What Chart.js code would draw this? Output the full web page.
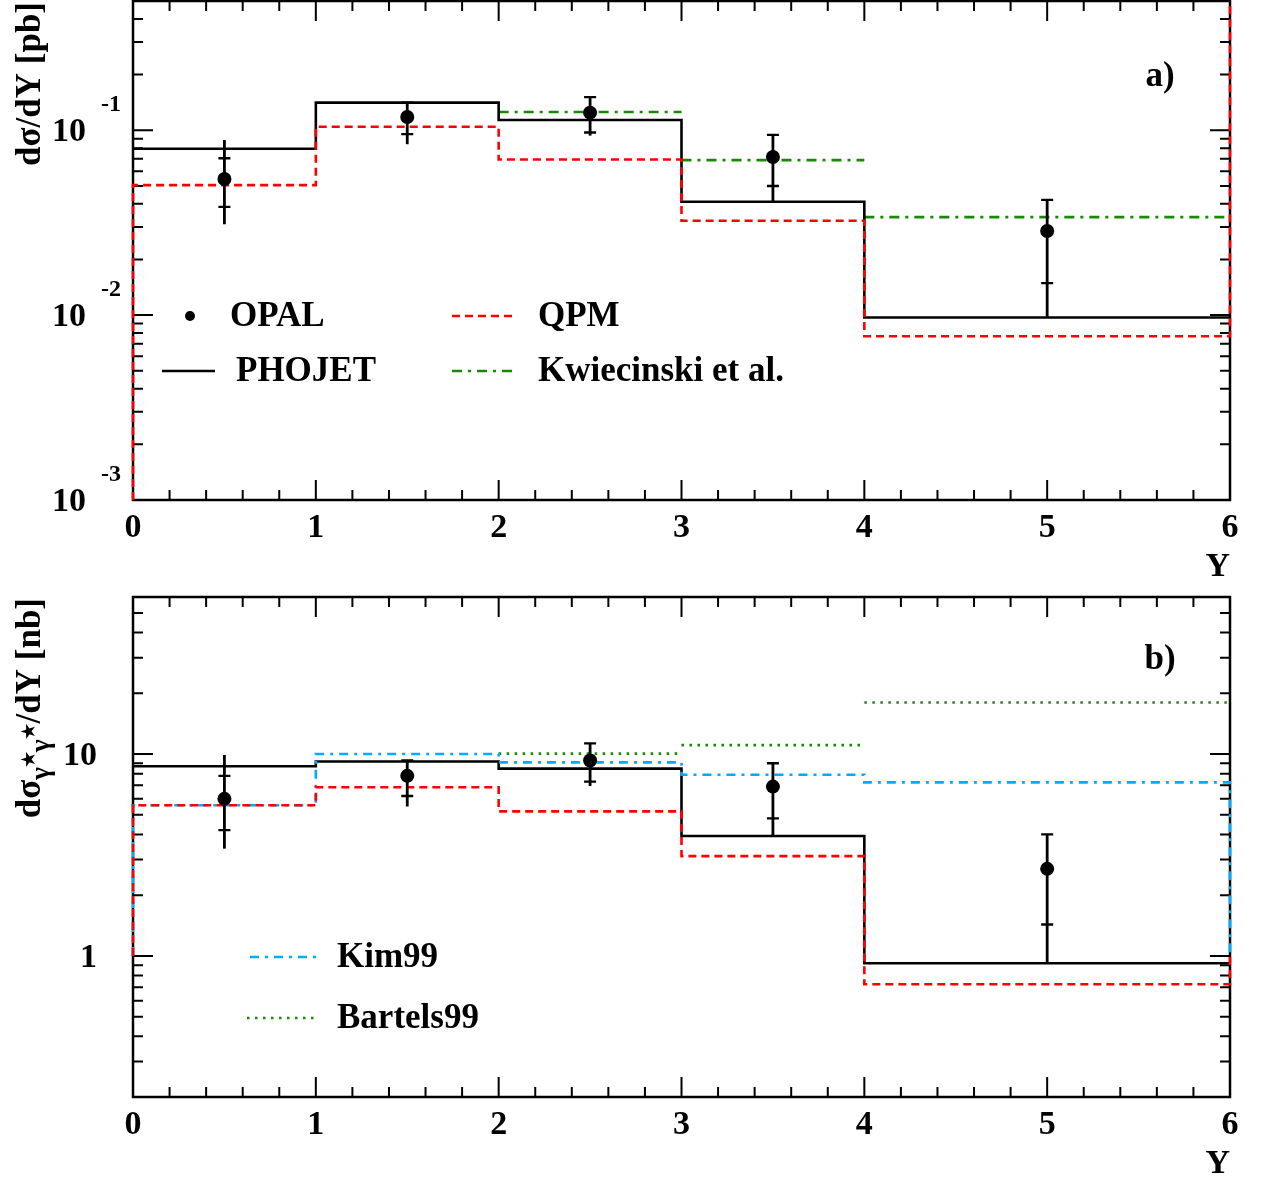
<!DOCTYPE html>
<html>
<head>
<meta charset="utf-8">
<title>dσ/dY</title>
<script src="https://cdn.jsdelivr.net/npm/chart.js@4/dist/chart.umd.min.js"></script>
<style>
  html, body { margin: 0; padding: 0; background: #fff; }
  #wrap { position: relative; width: 1268px; height: 1182px; overflow: hidden; }
  canvas { position: absolute; left: 0; }
  #cA { top: 0; }
  #cB { top: 590px; }
</style>
</head>
<body>
<div id="wrap">
  <canvas id="cA" width="1268" height="590"></canvas>
  <canvas id="cB" width="1268" height="592"></canvas>
</div>
<script>
// ---- binning (shared by both panels) ----
const binEdges = [0, 1, 2, 3, 4, 6];
const binCentres = [0.5, 1.5, 2.5, 3.5, 5.0];
const xTickLabels = ['0', '1', '2', '3', '4', '5', '6'];

// ---- panel a): dσ/dY [pb] ----
const opalA        = [0.0545, 0.118, 0.1245, 0.0716, 0.0285];
const opalAStatUp  = [0.016, 0.023, 0.0265, 0.0228, 0.0135];
const opalAStatDn  = [0.016, 0.0227, 0.0272, 0.0217, 0.0136];
const opalATotUp   = [0.034, 0.024, 0.027, 0.023, 0.0136];
const opalATotDn   = [0.0235, 0.034, 0.031, 0.0305, 0.0188];
const phojetA      = [0.0794, 0.141, 0.1135, 0.0410, 0.0097];
const qpmA         = [0.0505, 0.1045, 0.0695, 0.0324, 0.00768];
const qpmAClose    = [0.001, 1];          // outline closing levels at Y=0 and Y=6
const kwiecinskiA  = [null, null, 0.1256, 0.0689, 0.0339];
const yTicksA      = [0.001, 0.01, 0.1];
const yTickLabelsA = [['10', '-3'], ['10', '-2'], ['10', '-1']];

// ---- panel b): dσγ*γ*/dY [nb] ----
const opalB        = [6.0, 7.8, 9.3, 6.9, 2.7];
const opalBStatUp  = [1.8, 1.5, 2.0, 2.1, 1.3];
const opalBStatDn  = [1.8, 1.6, 2.0, 2.1, 1.27];
const opalBTotUp   = [3.9, 1.55, 2.05, 2.1, 1.3];
const opalBTotDn   = [2.6, 2.3, 2.35, 3.0, 1.78];
const phojetB      = [8.7, 9.18, 8.47, 3.93, 0.92];
const qpmB         = [5.58, 6.85, 5.2, 3.12, 0.724];
const qpmBClose    = [1, 1];
const kimB         = [5.58, 10.0, 9.1, 7.9, 7.24];
const kimBClose    = [1, 1];
const bartelsB     = [null, null, 10.05, 11.07, 18.0];
const yTicksB      = [1, 10];
const yTickLabelsB = [['1', ''], ['10', '']];

// ---- styling ----
const SERIF = '"Liberation Serif", "Times New Roman", Times, serif';
const bold = px => `bold ${px}px ${SERIF}`;
const RED = '#ff0000';
const GREEN = '#168a00';
const BLUE = '#00aaff';
const DASH_QPM = [8, 5];
const DASH_KW = [10, 6, 3, 6];
const DASH_KIM = [9, 6, 3, 6];
const DASH_BART = [2.5, 5.5];

// histogram outline: horizontal tops joined by verticals, optional closing levels
function histOutline(vals, edges, close) {
  const pts = [];
  if (close) pts.push({ x: edges[0], y: close[0] });
  vals.forEach((v, i) => {
    pts.push({ x: edges[i], y: v });
    pts.push({ x: edges[i + 1], y: v });
  });
  if (close) pts.push({ x: edges[edges.length - 1], y: close[1] });
  return pts;
}
// separate horizontal pieces, no joining verticals
function binSegments(vals, edges) {
  const pts = [];
  vals.forEach((v, i) => {
    if (v == null) return;
    pts.push({ x: edges[i], y: v }, { x: edges[i + 1], y: v }, { x: edges[i + 1], y: null });
  });
  return pts;
}
function lineSet(data, color, dash, order) {
  return {
    type: 'line', data, borderColor: color, borderWidth: 2.6, borderDash: dash || [],
    borderCapStyle: 'butt', pointRadius: 0, tension: 0, spanGaps: false, order,
    clip: { left: 3, right: 3, top: 0, bottom: 0 }
  };
}
function pointSet(vals) {
  return {
    type: 'line', showLine: false, order: 0,
    data: vals.map((v, i) => ({ x: binCentres[i], y: v })),
    pointRadius: 7, pointBackgroundColor: '#000', pointBorderWidth: 0,
    clip: false
  };
}

// frame with inward ticks on all four sides
const framePlugin = {
  id: 'frameTicks',
  beforeDatasetsDraw(chart) {
    const { ctx, chartArea: a, scales: { x, y } } = chart;
    ctx.save();
    ctx.strokeStyle = '#000';
    ctx.lineWidth = 2;
    ctx.beginPath();
    for (let i = 0; i <= 30; i++) {
      const px = x.getPixelForValue(i * 0.2);
      const len = i % 5 === 0 ? 20 : 10;
      ctx.moveTo(px, a.bottom); ctx.lineTo(px, a.bottom - len);
      ctx.moveTo(px, a.top); ctx.lineTo(px, a.top + len);
    }
    const lo = Math.floor(Math.log10(y.min)), hi = Math.ceil(Math.log10(y.max));
    for (let d = lo; d <= hi; d++) {
      for (let m = 1; m <= 9; m++) {
        const v = m * Math.pow(10, d);
        if (v < y.min * 0.999 || v > y.max * 1.001) continue;
        const py = y.getPixelForValue(v);
        const len = m === 1 ? 20 : 10;
        ctx.moveTo(a.left, py); ctx.lineTo(a.left + len, py);
        ctx.moveTo(a.right, py); ctx.lineTo(a.right - len, py);
      }
    }
    ctx.stroke();
    ctx.lineWidth = 2.5;
    ctx.strokeRect(a.left, a.top, a.right - a.left, a.bottom - a.top);
    ctx.restore();
  }
};

// OPAL error bars: total error as a plain line, statistical error ends marked with ticks
function errorBars(vals, sUp, sDn, tUp, tDn) {
  return {
    id: 'opalErrors',
    afterDatasetsDraw(chart) {
      const { ctx, scales: { x, y } } = chart;
      ctx.save();
      ctx.strokeStyle = '#000';
      vals.forEach((v, i) => {
        const px = x.getPixelForValue(binCentres[i]);
        ctx.lineWidth = 2.8;
        ctx.beginPath();
        ctx.moveTo(px, y.getPixelForValue(v + tUp[i]));
        ctx.lineTo(px, y.getPixelForValue(v - tDn[i]));
        ctx.stroke();
        ctx.lineWidth = 2.4;
        ctx.beginPath();
        [v + sUp[i], v - sDn[i]].forEach(e => {
          const py = y.getPixelForValue(e);
          ctx.moveTo(px - 6, py); ctx.lineTo(px + 6, py);
        });
        ctx.stroke();
      });
      ctx.restore();
    }
  };
}

// tick labels, axis titles, legend and panel tag
function textPlugin(cfg) {
  return {
    id: 'labels',
    afterDraw(chart) {
      const { ctx, chartArea: a, scales: { x, y } } = chart;
      ctx.save();
      ctx.fillStyle = '#000';
      ctx.textBaseline = 'middle';
      // x tick labels
      ctx.font = bold(34);
      ctx.textAlign = 'center';
      xTickLabels.forEach((t, i) => ctx.fillText(t, x.getPixelForValue(i), a.bottom + 28));
      // x title
      ctx.textAlign = 'right';
      ctx.fillText('Y', a.right, a.bottom + 67);
      // y tick labels
      cfg.yTicks.forEach((v, i) => {
        const py = y.getPixelForValue(v);
        const [base, exp] = cfg.yTickLabels[i];
        ctx.font = bold(34);
        ctx.textAlign = 'right';
        ctx.fillText(base, cfg.labelRight, py + 2);
        if (exp) {
          ctx.font = bold(24);
          ctx.textAlign = 'left';
          ctx.fillText(exp, cfg.labelRight + 15, py - 25);
        }
      });
      // panel tag
      ctx.font = bold(35);
      ctx.textAlign = 'center';
      ctx.fillText(cfg.tag, 1160, a.top + cfg.tagDy);
      // y title, rotated, ending near the top of the frame
      ctx.save();
      ctx.translate(40, a.top + 1);
      ctx.rotate(-Math.PI / 2);
      ctx.textBaseline = 'alphabetic';
      const pieces = cfg.yTitle;
      let total = 0;
      pieces.forEach(p => { ctx.font = bold(p.size); total += ctx.measureText(p.t).width + (p.gap || 0); });
      let cx = -total;
      ctx.textAlign = 'left';
      pieces.forEach(p => {
        ctx.font = bold(p.size);
        ctx.fillText(p.t, cx, p.dy || 0);
        cx += ctx.measureText(p.t).width + (p.gap || 0);
      });
      ctx.restore();
      // legend
      ctx.textBaseline = 'middle';
      ctx.textAlign = 'left';
      cfg.legend.forEach(item => {
        const ly = item.y - chart.canvas.offsetTop;
        if (item.marker) {
          ctx.beginPath();
          ctx.arc(item.x0, ly, 5, 0, Math.PI * 2);
          ctx.fill();
        } else {
          ctx.save();
          ctx.strokeStyle = item.color;
          ctx.lineWidth = 2.6;
          ctx.setLineDash(item.dash || []);
          ctx.beginPath();
          ctx.moveTo(item.x0, ly); ctx.lineTo(item.x1, ly);
          ctx.stroke();
          ctx.restore();
        }
        ctx.font = bold(35);
        ctx.fillText(item.text, item.tx, ly + 1);
      });
      ctx.restore();
    }
  };
}

function makeChart(id, pad, yMin, yMax, datasets, extraPlugins) {
  return new Chart(document.getElementById(id), {
    type: 'line',
    data: { datasets },
    options: {
      responsive: false,
      animation: false,
      layout: { padding: pad, autoPadding: false },
      plugins: { legend: { display: false }, tooltip: { enabled: false } },
      scales: {
        x: { type: 'linear', min: 0, max: 6, display: false },
        y: { type: 'logarithmic', min: yMin, max: yMax, display: false }
      }
    },
    plugins: [framePlugin, ...extraPlugins]
  });
}

// panel a)
makeChart('cA', { left: 133, right: 38, top: 1, bottom: 90 }, 0.001, 0.5, [
  pointSet(opalA),
  lineSet(histOutline(qpmA, binEdges, qpmAClose), RED, DASH_QPM, 1),
  lineSet(histOutline(phojetA, binEdges), '#000', [], 2),
  lineSet(binSegments(kwiecinskiA, binEdges), GREEN, DASH_KW, 3)
], [
  errorBars(opalA, opalAStatUp, opalAStatDn, opalATotUp, opalATotDn),
  textPlugin({
    yTicks: yTicksA, yTickLabels: yTickLabelsA, labelRight: 86, tag: 'a)', tagDy: 76,
    yTitle: [{ t: 'dσ/dY [pb]', size: 35 }],
    legend: [
      { marker: true, x0: 190, y: 316, text: 'OPAL', tx: 230 },
      { color: '#000', x0: 162, x1: 215, y: 371, text: 'PHOJET', tx: 236 },
      { color: RED, dash: DASH_QPM, x0: 452, x1: 517, y: 316, text: 'QPM', tx: 538 },
      { color: GREEN, dash: DASH_KW, x0: 452, x1: 517, y: 371, text: 'Kwiecinski et al.', tx: 538 }
    ]
  })
]);

// panel b)
makeChart('cB', { left: 133, right: 38, top: 7, bottom: 85 }, 0.2, 60, [
  pointSet(opalB),
  lineSet(histOutline(qpmB, binEdges, qpmBClose), RED, DASH_QPM, 1),
  lineSet(histOutline(kimB, binEdges, kimBClose), BLUE, DASH_KIM, 2),
  lineSet(histOutline(phojetB, binEdges), '#000', [], 3),
  lineSet(binSegments(bartelsB, binEdges), GREEN, DASH_BART, 4)
], [
  errorBars(opalB, opalBStatUp, opalBStatDn, opalBTotUp, opalBTotDn),
  textPlugin({
    yTicks: yTicksB, yTickLabels: yTickLabelsB, labelRight: 97, tag: 'b)', tagDy: 63,
    yTitle: [
      { t: 'dσ', size: 35 },
      { t: 'γ', size: 27, dy: 9 },
      { t: '★', size: 17, dy: -6 },
      { t: 'γ', size: 27, dy: 9 },
      { t: '★', size: 17, dy: -6, gap: 1 },
      { t: '/dY [nb]', size: 35 }
    ],
    legend: [
      { color: BLUE, dash: DASH_KIM, x0: 250, x1: 317, y: 957, text: 'Kim99', tx: 337 },
      { color: GREEN, dash: DASH_BART, x0: 247, x1: 317, y: 1018, text: 'Bartels99', tx: 337 }
    ]
  })
]);
</script>
</body>
</html>
